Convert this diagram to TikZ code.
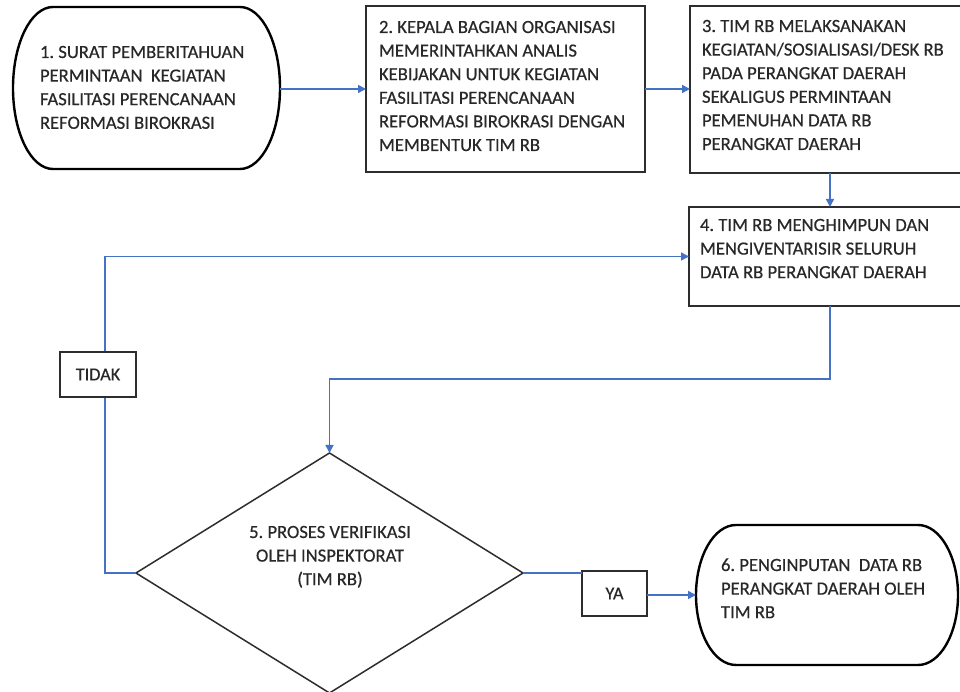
\documentclass[tikz,border=0pt]{standalone}
\usepackage{fontspec}
\setmainfont{Carlito}[FakeBold=0.5]
\usetikzlibrary{arrows.meta,shapes.geometric,calc}
\definecolor{txtgray}{RGB}{40,40,40}
\definecolor{boxgray}{RGB}{45,45,45}
\definecolor{linkblue}{RGB}{68,114,196}
\frenchspacing
\begin{document}
\begin{tikzpicture}[x=1pt,y=1pt,
  shapebox/.style={rectangle,inner sep=0pt,outer sep=0pt,draw=none},
  rectbox/.style={rectangle,inner sep=0pt,outer sep=0pt,draw=boxgray,line width=1.7pt,fill=white},
  termline/.style={draw=black,line width=2.4pt,line join=round},
  diam/.style={diamond,inner sep=0pt,outer sep=0pt,draw=boxgray,line width=1.5pt,aspect=1.6125},
  txt/.style={inner sep=0pt,outer sep=0pt,anchor=base west,text=txtgray,font=\fontsize{18.6}{23.6}\selectfont},
  link/.style={draw=linkblue,line width=1.5pt},
  arr/.style={link,-{Triangle[length=8pt,width=8pt]}},
  lbl/.style={rectbox,line width=1.8pt,text=txtgray,font=\fontsize{18.2}{22}\selectfont}
]
\useasboundingbox (0,0) rectangle (960,692);
\fill[white] (0,0) rectangle (960,692);

% shapes
\node[shapebox,minimum width=267,minimum height=162] (b1) at (146.5,604) {};
\draw[termline] ([xshift=40]b1.north west) -- ([xshift=-40]b1.north east)
  arc[start angle=90,end angle=-90,x radius=40,y radius=81]
  -- ([xshift=40]b1.south west)
  arc[start angle=270,end angle=90,x radius=40,y radius=81] -- cycle;

\node[rectbox,minimum width=279,minimum height=166] (b2) at (505.5,603) {};
\node[rectbox,minimum width=280,minimum height=167] (b3) at (830,602.5) {};
\node[rectbox,minimum width=282,minimum height=99] (b4) at (830,435.5) {};
\node[diam,minimum width=387,minimum height=240] (d) at (329.5,119) {};

\node[shapebox,minimum width=262,minimum height=140] (b6) at (827,97) {};
\draw[termline] ([xshift=40]b6.north west) -- ([xshift=-40]b6.north east)
  arc[start angle=90,end angle=-90,x radius=40,y radius=70]
  -- ([xshift=40]b6.south west)
  arc[start angle=270,end angle=90,x radius=40,y radius=70] -- cycle;

% texts
\node[txt] (t1) at ([shift={(27,-51)}]b1.north west) {\parbox[t]{250pt}{\raggedright
1. SURAT PEMBERITAHUAN\\
PERMINTAAN\ \ KEGIATAN\\
FASILITASI PERENCANAAN\\
REFORMASI BIROKRASI}};
\node[txt] (t2) at ([shift={(13,-27)}]b2.north west) {\parbox[t]{270pt}{\raggedright
2. KEPALA BAGIAN ORGANISASI\\
MEMERINTAHKAN ANALIS\\
KEBIJAKAN UNTUK KEGIATAN\\
FASILITASI PERENCANAAN\\
REFORMASI BIROKRASI DENGAN\\
MEMBENTUK TIM RB}};
\node[txt] (t3) at ([shift={(12,-26)}]b3.north west) {\parbox[t]{270pt}{\raggedright
3. TIM RB MELAKSANAKAN\\
KEGIATAN/SOSIALISASI/DESK RB\\
PADA PERANGKAT DAERAH\\
SEKALIGUS PERMINTAAN\\
PEMENUHAN DATA RB\\
PERANGKAT DAERAH}};
\node[txt] (t4) at ([shift={(11,-24)}]b4.north west) {\parbox[t]{270pt}{\raggedright
4. TIM RB MENGHIMPUN DAN\\
MENGIVENTARISIR SELURUH\\
DATA RB PERANGKAT DAERAH}};
\node[txt,anchor=base] (t5) at ([shift={(0.5,35)}]d.center) {\parbox[t]{240pt}{\centering
5. PROSES VERIFIKASI\\
OLEH INSPEKTORAT\\
(TIM RB)}};
\node[txt] (t6) at ([shift={(25,-46)}]b6.north west) {\parbox[t]{240pt}{\raggedright
6. PENGINPUTAN\ \ DATA RB\\
PERANGKAT DAERAH OLEH\\
TIM RB}};

% connectors
\draw[arr] (b1.east |- b2.west) -- (b2.west);
\draw[arr] (b2.east) -- (b2.east -| b3.west);
\draw[arr] (b3.south) -- (b4.north);
\draw[arr] (b4.south) -- ++(0,-73) -| (d.north);
\draw[arr] (d.west) -- ++(-31,0) |- (b4.west);
\node[lbl,minimum width=76,minimum height=45] (tidak) at (98,317.5) {TIDAK};
\node[lbl,minimum width=65,minimum height=45] (ya) at (614.5,98.5) {YA};
\draw[link] (d.east) -- (d.east -| ya.west);
\draw[arr] (ya.east |- b6.west) -- (b6.west);
\end{tikzpicture}
\end{document}
